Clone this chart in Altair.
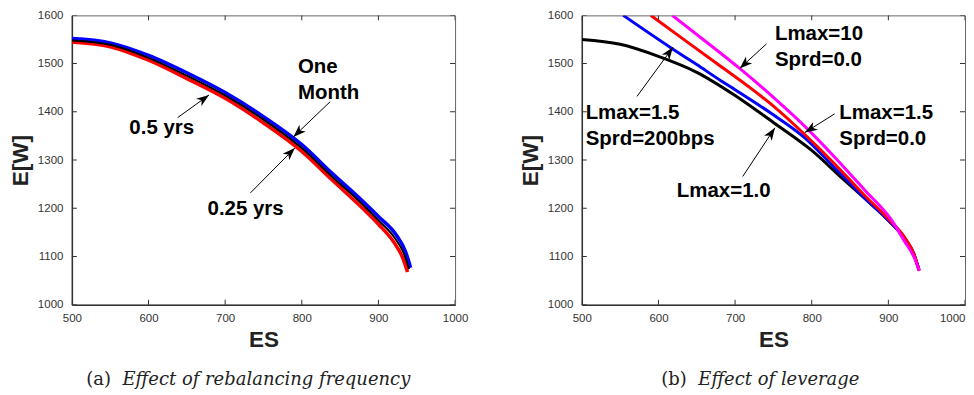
import math
import altair as alt
import pandas as pd

# ---------------- data ----------------
# Panel (a): effect of rebalancing frequency
a_blue_es = [500, 550, 600, 650, 700, 750, 800, 840, 880, 900, 924, 935, 942]
a_blue_ew = [1552, 1543, 1517, 1481, 1440, 1390, 1332, 1272, 1214, 1183, 1143, 1112, 1077]
a_red_es = [500, 550, 600, 650, 700, 750, 800, 840, 880, 900, 920, 931, 938]
a_red_ew = [1545, 1535, 1507, 1469, 1428, 1377, 1318, 1258, 1199, 1167, 1130, 1100, 1068]
a_black_es = [500, 550, 600, 650, 700, 750, 800, 840, 880, 900, 922, 933, 940]
a_black_ew = [1548, 1539, 1512, 1475, 1434, 1384, 1325, 1265, 1207, 1175, 1137, 1107, 1074]

# Panel (b): effect of leverage
b_black_es = [500, 550, 600, 650, 700, 750, 800, 840, 880, 900, 922, 933, 940]
b_black_ew = [1550, 1540, 1515, 1482, 1434, 1378, 1320, 1262, 1205, 1175, 1136, 1106, 1072]
b_blue_es = [554, 617, 650, 682, 700, 747, 791, 830, 870, 900, 922, 933, 940]
b_blue_ew = [1600, 1532, 1498, 1464, 1446, 1397, 1346, 1284, 1220, 1175, 1136, 1106, 1072]
b_red_es = [590, 640, 678, 717, 750, 791, 830, 870, 900, 922, 933, 940]
b_red_ew = [1600, 1542, 1498, 1453, 1412, 1353, 1292, 1225, 1178, 1138, 1107, 1072]
b_mag_es = [618, 660, 706, 750, 791, 830, 869, 904, 921, 934, 940.5]
b_mag_ew = [1600, 1548, 1490, 1430, 1370, 1306, 1238, 1176, 1132, 1097, 1070]

# annotations: label text, label anchor (ES, E[W]), arrow tail, arrow tip
a_note_text = ["One\nMonth", "0.5 yrs", "0.25 yrs"]
a_note_es = [795, 575, 677]
a_note_ew = [1480, 1355, 1186]
a_tail_es = [837, 638, 733]
a_tail_ew = [1421, 1388, 1232]
a_tip_es = [789, 679, 791]
a_tip_ew = [1348, 1435, 1325]

b_note_text = ["Lmax=10\nSprd=0.0", "Lmax=1.5\nSprd=200bps", "Lmax=1.5\nSprd=0.0", "Lmax=1.0"]
b_note_es = [752, 505, 836, 624]
b_note_ew = [1549, 1386, 1386, 1223]
b_tail_es = [741, 572, 830, 710]
b_tail_ew = [1541, 1432, 1396, 1266]
b_tip_es = [706, 619, 791, 752]
b_tip_ew = [1490, 1534, 1357, 1367]

x_ticks = [500, 600, 700, 800, 900, 1000]
y_ticks = [1000, 1100, 1200, 1300, 1400, 1500, 1600]

cap_tags = ["(a)", "(b)"]
cap_texts = ["Effect of rebalancing frequency", "Effect of leverage"]
cap_tag_es = [551, 637]
cap_text_es = [566, 652]

# ---------------- layout ----------------
W, H = 384, 290
X_DOM = [500, 1000]
Y_DOM = [1000, 1600]
SX = W / (X_DOM[1] - X_DOM[0])
SY = H / (Y_DOM[1] - Y_DOM[0])
CAP_E = Y_DOM[0] - 80 / SY

FONT = "Liberation Sans"
xs = alt.Scale(domain=X_DOM, nice=False, zero=False)
ys = alt.Scale(domain=Y_DOM, nice=False, zero=False)
y_axis = alt.Axis(values=y_ticks, format="d", labelPadding=9, titlePadding=5)

ARROW = "M0,0 L0.36,1 L0,0.72 L-0.36,1 Z"


def make_x_axis(flush_last):
    kw = dict(values=x_ticks, format="d", labelFlush=False, labelOverlap=False,
              titlePadding=4, labelPadding=8)
    if flush_last:
        kw["labelAlign"] = {"condition": {"test": "datum.value == 1000", "value": "right"},
                            "value": "center"}
    return alt.Axis(**kw)


def panel(lines, notes, cap_i, flush_last):
    x_axis = make_x_axis(flush_last)

    def X(f):
        return alt.X(f, scale=xs, title="ES", axis=x_axis)

    def Y(f):
        return alt.Y(f, scale=ys, title="E[W]", axis=y_axis)

    layers = []
    for es, ew, color, width in lines:
        df = pd.DataFrame({"es": es, "ew": ew})
        layers.append(alt.Chart(df).mark_line(color=color, strokeWidth=width, clip=True,
                                              interpolate="monotone").encode(
            x=X("es:Q"), y=Y("ew:Q"), order=alt.Order("es:Q")))

    dfx = pd.DataFrame({"v": x_ticks})
    dfy = pd.DataFrame({"v": y_ticks})
    common = dict(size=10, thickness=1, color="#333333", clip=True, opacity=1)
    for yv in [0, H]:
        layers.append(alt.Chart(dfx).mark_tick(orient="vertical", **common).encode(
            x=X("v:Q"), y=alt.value(yv)))
    for xv in [0, W]:
        layers.append(alt.Chart(dfy).mark_tick(orient="horizontal", **common).encode(
            y=Y("v:Q"), x=alt.value(xv)))

    text, nes, new, tes, tew, pes, pew = notes
    ang = []
    for t0, t1, p0, p1 in zip(tes, tew, pes, pew):
        dx = (p0 - t0) * SX
        dy = -(p1 - t1) * SY
        ang.append(math.degrees(math.atan2(dx, -dy)) % 360)
    dft = pd.DataFrame({"t": text, "es": nes, "ew": new})
    dfa = pd.DataFrame({"es": tes, "ew": tew, "es2": pes, "ew2": pew, "ang": ang})
    layers.append(alt.Chart(dfa).mark_rule(color="black", strokeWidth=1).encode(
        x=X("es:Q"), y=Y("ew:Q"), x2="es2:Q", y2="ew2:Q"))
    layers.append(alt.Chart(dfa).mark_point(shape=ARROW, filled=True, size=650, color="black",
                                            opacity=1, strokeWidth=0).encode(
        x=X("es2:Q"), y=Y("ew2:Q"), angle=alt.Angle("ang:Q", scale=None)))
    layers.append(alt.Chart(dft).mark_text(align="left", baseline="alphabetic", font=FONT,
                                           fontSize=20.5, fontWeight="bold", color="black",
                                           lineBreak="\n", lineHeight=26).encode(
        x=X("es:Q"), y=Y("ew:Q"), text="t:N"))

    d1 = pd.DataFrame({"t": [cap_tags[cap_i]], "es": [cap_tag_es[cap_i]], "ew": [CAP_E]})
    d2 = pd.DataFrame({"t": [cap_texts[cap_i]], "es": [cap_text_es[cap_i]], "ew": [CAP_E]})
    layers.append(alt.Chart(d1).mark_text(align="right", baseline="alphabetic",
                                          font="DejaVu Serif", fontSize=18,
                                          color="#222222").encode(
        x=X("es:Q"), y=Y("ew:Q"), text="t:N"))
    layers.append(alt.Chart(d2).mark_text(align="left", baseline="alphabetic",
                                          font="DejaVu Serif", fontSize=18,
                                          fontStyle="italic", color="#222222").encode(
        x=X("es:Q"), y=Y("ew:Q"), text="t:N"))
    return alt.layer(*layers).properties(width=W, height=H)


panel_a = panel(
    [(a_blue_es, a_blue_ew, "#0000ff", 3.5),
     (a_red_es, a_red_ew, "#ff0000", 3.5),
     (a_black_es, a_black_ew, "#000000", 2)],
    (a_note_text, a_note_es, a_note_ew, a_tail_es, a_tail_ew, a_tip_es, a_tip_ew),
    0, False)

panel_b = panel(
    [(b_black_es, b_black_ew, "#000000", 3),
     (b_blue_es, b_blue_ew, "#0000ff", 3),
     (b_red_es, b_red_ew, "#ff0000", 3),
     (b_mag_es, b_mag_ew, "#ff00ff", 3)],
    (b_note_text, b_note_es, b_note_ew, b_tail_es, b_tail_ew, b_tip_es, b_tip_ew),
    1, True)

chart = alt.hconcat(panel_a, panel_b, spacing=49).properties(
    padding={"left": 0, "top": 0, "right": 0, "bottom": 0}
).configure_view(stroke="#666666", strokeWidth=1).configure_axis(
    grid=False, ticks=False, domainColor="#333333", domainWidth=1.5,
    labelFont=FONT, labelFontSize=11.5, labelColor="#333333",
    titleFont=FONT, titleFontSize=22.5, titleFontWeight="bold", titleColor="#222222",
)

chart.save("out.html", embed_options={"renderer": "svg", "actions": False})
